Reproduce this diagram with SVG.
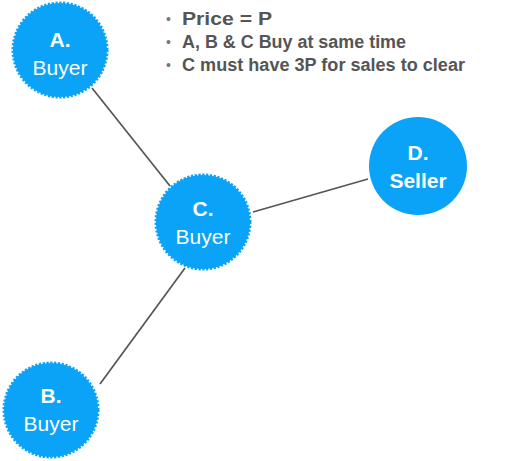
<svg xmlns="http://www.w3.org/2000/svg" width="506" height="461" viewBox="0 0 506 461">
<style>
.n{fill:#0BA3F7}
.sc{stroke:#0BA3F7;stroke-width:3;stroke-dasharray:2.2 1.6}
.lbl{fill:#fff;font-family:"Liberation Sans",Arial,sans-serif;font-size:21px;text-anchor:middle}
.b{font-weight:bold}
.note{fill:#555;font-family:"Liberation Sans",Arial,sans-serif;font-size:18px;font-weight:bold}
.dot{fill:#777;font-family:"Liberation Sans",Arial,sans-serif;font-size:14px}
.c{stroke:#555;stroke-width:1.7;fill:none}
</style>
<rect width="506" height="461" fill="#fff"/>
<g id="connectors">
<line class="c" x1="92" y1="88" x2="170" y2="186"/>
<line class="c" x1="253" y1="212" x2="368" y2="179"/>
<line class="c" x1="185" y1="268" x2="100" y2="384"/>
</g>
<g id="nodeA">
<circle class="n sc" cx="60" cy="50" r="47"/>
<text class="lbl b" x="60" y="47">A.</text>
<text class="lbl" x="60" y="75">Buyer</text>
</g>
<g id="nodeC">
<circle class="n sc" cx="203" cy="222" r="47"/>
<text class="lbl b" x="203" y="216">C.</text>
<text class="lbl" x="203" y="244">Buyer</text>
</g>
<g id="nodeD">
<circle class="n" cx="418" cy="166" r="49"/>
<text class="lbl b" x="418" y="160">D.</text>
<text class="lbl b" x="418" y="188">Seller</text>
</g>
<g id="nodeB">
<circle class="n sc" cx="51" cy="410" r="47"/>
<text class="lbl b" x="51" y="403">B.</text>
<text class="lbl" x="51" y="431">Buyer</text>
</g>
<g id="notes">
<text class="dot" x="166" y="24">•</text>
<text class="note" x="182" y="25" textLength="90" lengthAdjust="spacingAndGlyphs">Price = P</text>
<text class="dot" x="166" y="47">•</text>
<text class="note" x="182" y="48" textLength="224" lengthAdjust="spacingAndGlyphs">A, B &amp; C Buy at same time</text>
<text class="dot" x="166" y="70">•</text>
<text class="note" x="182" y="71" textLength="283" lengthAdjust="spacingAndGlyphs">C must have 3P for sales to clear</text>
</g>
</svg>
